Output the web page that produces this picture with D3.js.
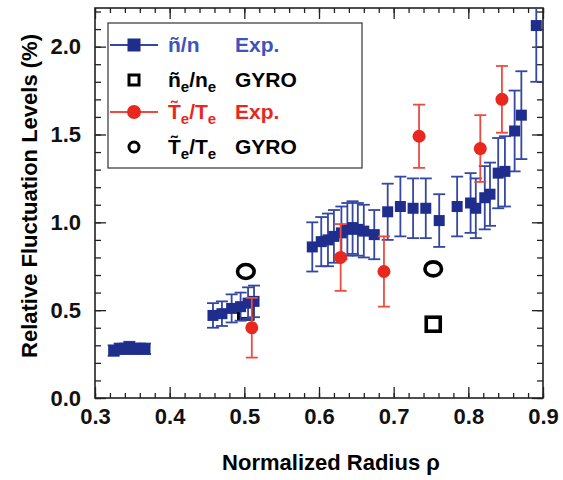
<!DOCTYPE html>
<html>
<head>
<meta charset="utf-8">
<script src="https://cdn.jsdelivr.net/npm/d3@7"></script>
<style>
  body { margin: 0; background: #fff; }
  text { font-family: "Liberation Sans", Arial, sans-serif; }
</style>
</head>
<body>
<div id="canvas"></div>
<script>
// n~/n experimental (blue squares)
const rhoN = [0.325, 0.333, 0.340, 0.346, 0.353, 0.360, 0.367,
              0.458, 0.470, 0.483, 0.495, 0.505, 0.513,
              0.591, 0.603, 0.612, 0.620, 0.630, 0.638, 0.645, 0.652, 0.660, 0.674,
              0.692, 0.709, 0.726, 0.743, 0.761, 0.785, 0.803, 0.810, 0.822, 0.829,
              0.840, 0.849, 0.862, 0.871, 0.891];
const nExp = [0.27, 0.28, 0.28, 0.29, 0.28, 0.28, 0.28,
              0.47, 0.48, 0.51, 0.52, 0.54, 0.55,
              0.86, 0.89, 0.90, 0.92, 0.94, 0.96, 0.97, 0.96, 0.95, 0.93,
              1.06, 1.09, 1.08, 1.08, 1.01, 1.09, 1.11, 1.08, 1.14, 1.16,
              1.28, 1.29, 1.52, 1.61, 2.12];
const nErr = [0.03, 0.03, 0.03, 0.03, 0.03, 0.03, 0.03,
              0.07, 0.07, 0.08, 0.08, 0.09, 0.09,
              0.14, 0.14, 0.15, 0.15, 0.15, 0.15, 0.15, 0.15, 0.15, 0.14,
              0.16, 0.17, 0.17, 0.17, 0.15, 0.17, 0.17, 0.17, 0.18, 0.18,
              0.20, 0.20, 0.23, 0.25, 0.32];

// T~e/Te experimental (red circles)
const rhoT = [0.510, 0.629, 0.687, 0.734, 0.816, 0.845];
const tExp = [0.40, 0.80, 0.72, 1.49, 1.42, 1.70];
const tErr = [0.17, 0.19, 0.20, 0.18, 0.19, 0.19];

// GYRO simulation
const rhoGyro = [0.502, 0.753];
const nGyro = [0.49, 0.42];
const tGyro = [0.72, 0.735];

const xMajor = [0.3, 0.4, 0.5, 0.6, 0.7, 0.8, 0.9];
const yMajor = [0.0, 0.5, 1.0, 1.5, 2.0];

const canvWidth = 563, canvHeight = 480;
const plotLeft = 95, plotRight = 543, plotTop = 8, plotBottom = 398;

const blue = "#1f2d8c", blueBar = "#3447a3", blueText = "#3d55b8";
const red = "#e8281e", redBar = "#f04a40";

const svg = d3.select("#canvas").append("svg")
    .attr("width", canvWidth)
    .attr("height", canvHeight);

const x = d3.scaleLinear().domain([0.3, 0.9]).range([plotLeft, plotRight]);
const y = d3.scaleLinear().domain([0, 2.22]).range([plotBottom, plotTop]);

var fmt = d3.format(".1f");
var xMinor = d3.range(0.3, 0.9001, 0.02);
var yMinor = d3.range(0, 2.2001, 0.1);

function styleAxis(g) {
    g.select(".domain").remove();
    g.selectAll("line").attr("stroke", "#222").attr("stroke-width", 1.3);
    g.selectAll("text")
        .style("font-size", "22px")
        .style("font-weight", "bold")
        .attr("fill", "#111");
}

// minor ticks on all four sides
svg.append("g").attr("transform", "translate(0," + plotBottom + ")")
    .call(d3.axisBottom(x).tickValues(xMinor).tickSize(-5).tickFormat(""))
    .call(styleAxis);
svg.append("g").attr("transform", "translate(0," + plotTop + ")")
    .call(d3.axisTop(x).tickValues(xMinor).tickSize(-5).tickFormat(""))
    .call(styleAxis);
svg.append("g").attr("transform", "translate(" + plotLeft + ",0)")
    .call(d3.axisLeft(y).tickValues(yMinor).tickSize(-6).tickFormat(""))
    .call(styleAxis);
svg.append("g").attr("transform", "translate(" + plotRight + ",0)")
    .call(d3.axisRight(y).tickValues(yMinor).tickSize(-6).tickFormat(""))
    .call(styleAxis);

// major ticks with labels
svg.append("g").attr("transform", "translate(0," + plotBottom + ")")
    .call(d3.axisBottom(x).tickValues(xMajor).tickSize(-11).tickPadding(10).tickFormat(fmt))
    .call(styleAxis);
svg.append("g").attr("transform", "translate(0," + plotTop + ")")
    .call(d3.axisTop(x).tickValues(xMajor).tickSize(-11).tickFormat(""))
    .call(styleAxis);
svg.append("g").attr("transform", "translate(" + plotLeft + ",0)")
    .call(d3.axisLeft(y).tickValues(yMajor).tickSize(-11).tickPadding(14).tickFormat(fmt))
    .call(styleAxis);
svg.append("g").attr("transform", "translate(" + plotRight + ",0)")
    .call(d3.axisRight(y).tickValues(yMajor).tickSize(-11).tickFormat(""))
    .call(styleAxis);

// frame
svg.append("rect")
    .attr("x", plotLeft).attr("y", plotTop)
    .attr("width", plotRight - plotLeft).attr("height", plotBottom - plotTop)
    .attr("fill", "none").attr("stroke", "#222").attr("stroke-width", 1.6);

svg.append("clipPath").attr("id", "plotclip")
    .append("rect")
    .attr("x", plotLeft).attr("y", plotTop)
    .attr("width", plotRight - plotLeft).attr("height", plotBottom - plotTop);

const plot = svg.append("g").attr("clip-path", "url(#plotclip)");

function errorBars(g, xs, ys, es, color) {
    var d = xs.map(function (v, i) { return {x: v, y: ys[i], e: es[i]}; });
    var bars = g.append("g").selectAll("g").data(d).enter().append("g")
        .attr("stroke", color).attr("stroke-width", 1.8);
    bars.append("line")
        .attr("x1", function (d) { return x(d.x); })
        .attr("x2", function (d) { return x(d.x); })
        .attr("y1", function (d) { return y(d.y - d.e); })
        .attr("y2", function (d) { return y(d.y + d.e); });
    [1, -1].forEach(function (s) {
        bars.append("line")
            .attr("x1", function (d) { return x(d.x) - 6; })
            .attr("x2", function (d) { return x(d.x) + 6; })
            .attr("y1", function (d) { return y(d.y + s * d.e); })
            .attr("y2", function (d) { return y(d.y + s * d.e); });
    });
}

// GYRO squares (behind experimental data)
plot.append("g").selectAll("rect")
    .data(rhoGyro.map(function (v, i) { return [v, nGyro[i]]; }))
    .enter().append("rect")
    .attr("x", function (d) { return x(d[0]) - 7; })
    .attr("y", function (d) { return y(d[1]) - 7; })
    .attr("width", 14).attr("height", 14)
    .attr("fill", "none").attr("stroke", "#000").attr("stroke-width", 3.6);

// blue experimental
errorBars(plot, rhoN, nExp, nErr, blueBar);
plot.append("g").selectAll("rect")
    .data(rhoN.map(function (v, i) { return [v, nExp[i]]; }))
    .enter().append("rect")
    .attr("x", function (d) { return x(d[0]) - 5.5; })
    .attr("y", function (d) { return y(d[1]) - 5.5; })
    .attr("width", 11).attr("height", 11)
    .attr("fill", blue);

// red experimental
errorBars(plot, rhoT, tExp, tErr, redBar);
plot.append("g").selectAll("circle")
    .data(rhoT.map(function (v, i) { return [v, tExp[i]]; }))
    .enter().append("circle")
    .attr("cx", function (d) { return x(d[0]); })
    .attr("cy", function (d) { return y(d[1]); })
    .attr("r", 6.5)
    .attr("fill", red);

// GYRO circles
plot.append("g").selectAll("ellipse")
    .data(rhoGyro.map(function (v, i) { return [v, tGyro[i]]; }))
    .enter().append("ellipse")
    .attr("cx", function (d) { return x(d[0]); })
    .attr("cy", function (d) { return y(d[1]); })
    .attr("rx", 8.3).attr("ry", 7)
    .attr("fill", "none").attr("stroke", "#000").attr("stroke-width", 3.6);

// legend
const legend = svg.append("g");
legend.append("rect")
    .attr("x", 108).attr("y", 23).attr("width", 254).attr("height", 145)
    .attr("fill", "#fff").attr("stroke", "#333").attr("stroke-width", 1.2);

const rows = [45, 80, 112, 147];
const symX = 134, labX = 168, kindX = 235;

legend.append("line").attr("x1", 110).attr("x2", 158).attr("y1", rows[0]).attr("y2", rows[0])
    .attr("stroke", blueBar).attr("stroke-width", 2);
legend.append("rect").attr("x", symX - 6.5).attr("y", rows[0] - 6.5).attr("width", 13).attr("height", 13)
    .attr("fill", blue);
legend.append("rect").attr("x", symX - 5).attr("y", rows[1] - 5).attr("width", 10).attr("height", 10)
    .attr("fill", "none").attr("stroke", "#000").attr("stroke-width", 3);
legend.append("line").attr("x1", 110).attr("x2", 158).attr("y1", rows[2]).attr("y2", rows[2])
    .attr("stroke", redBar).attr("stroke-width", 2);
legend.append("circle").attr("cx", symX).attr("cy", rows[2]).attr("r", 7).attr("fill", red);
legend.append("circle").attr("cx", symX).attr("cy", rows[3]).attr("r", 5).attr("fill", "none")
    .attr("stroke", "#000").attr("stroke-width", 3);

function legendLabel(yc, parts, color) {
    var t = legend.append("text")
        .attr("x", labX).attr("y", yc + 7)
        .attr("fill", color)
        .style("font-size", "21px")
        .style("font-weight", "bold");
    parts.forEach(function (p) {
        var s = t.append("tspan").text(p[0]);
        if (p[1]) s.attr("dy", 5).style("font-size", "15px");
        else if (p[2]) s.attr("dy", -5);
    });
}

legendLabel(rows[0], [["ñ/n"]], blueText);
legendLabel(rows[1], [["ñ"], ["e", true], ["/n", false, true], ["e", true]], "#000");
legendLabel(rows[2], [["T\u0303"], ["e", true], ["/T", false, true], ["e", true]], red);
legendLabel(rows[3], [["T\u0303"], ["e", true], ["/T", false, true], ["e", true]], "#000");

const kinds = ["Exp.", "GYRO", "Exp.", "GYRO"];
const kindColors = [blueText, "#000", red, "#000"];
legend.selectAll("text.kind").data(kinds).enter().append("text")
    .attr("class", "kind")
    .attr("x", kindX)
    .attr("y", function (d, i) { return rows[i] + 7; })
    .attr("fill", function (d, i) { return kindColors[i]; })
    .style("font-size", "21px")
    .style("font-weight", "bold")
    .text(function (d) { return d; });

// axis titles
svg.append("text")
    .attr("x", 331).attr("y", 470)
    .attr("text-anchor", "middle")
    .style("font-size", "22px").style("font-weight", "bold")
    .text("Normalized Radius ρ");

svg.append("text")
    .attr("transform", "translate(37,196) rotate(-90)")
    .attr("text-anchor", "middle")
    .style("font-size", "22px").style("font-weight", "bold")
    .text("Relative Fluctuation Levels (%)");
</script>
</body>
</html>
